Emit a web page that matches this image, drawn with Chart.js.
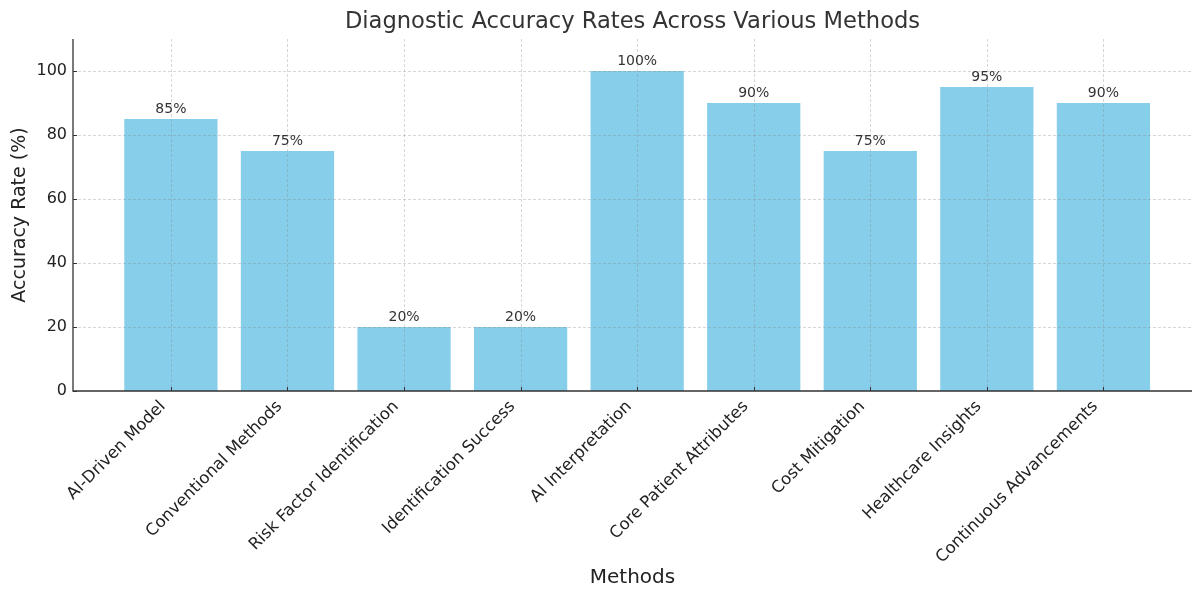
<!DOCTYPE html>
<html>
<head>
<meta charset="utf-8">
<script src="https://cdn.jsdelivr.net/npm/chart.js@4"></script>
<style>
  html, body { margin: 0; padding: 0; background: #fff; }
  #wrap { width: 1192px; height: 590px; }
</style>
</head>
<body>
<div id="wrap"><canvas id="chart" width="1192" height="590"></canvas></div>
<script>
const categories = [
  'AI-Driven Model',
  'Conventional Methods',
  'Risk Factor Identification',
  'Identification Success',
  'AI Interpretation',
  'Core Patient Attributes',
  'Cost Mitigation',
  'Healthcare Insights',
  'Continuous Advancements'
];
const accuracy = [85, 75, 20, 20, 100, 90, 75, 95, 90];
const yTicks = [0, 20, 40, 60, 80, 100];

const FONT = 'DejaVu Sans';

// grid lines, inward ticks, spines and bar labels drawn over the bars (like matplotlib)
const overlay = {
  id: 'overlay',
  afterDatasetsDraw(chart) {
    const { ctx, chartArea: { left, right, top, bottom }, scales: { x, y } } = chart;
    ctx.save();
    ctx.strokeStyle = 'rgba(130,130,130,0.4)';
    ctx.lineWidth = 0.8;
    ctx.setLineDash([3, 2]);
    x.ticks.forEach(t => {
      const px = Math.round(x.getPixelForValue(t.value)) + 0.5;
      ctx.beginPath(); ctx.moveTo(px, top); ctx.lineTo(px, bottom); ctx.stroke();
    });
    y.ticks.forEach(t => {
      if (t.value === 0) return;
      const py = Math.round(y.getPixelForValue(t.value)) + 0.5;
      ctx.beginPath(); ctx.moveTo(left, py); ctx.lineTo(right, py); ctx.stroke();
    });
    ctx.setLineDash([]);

    // spines
    ctx.strokeStyle = '#333';
    ctx.lineWidth = 1.3;
    ctx.beginPath();
    ctx.moveTo(left, top); ctx.lineTo(left, bottom); ctx.lineTo(right, bottom);
    ctx.stroke();

    // inward tick marks
    ctx.lineWidth = 1;
    x.ticks.forEach(t => {
      const px = Math.round(x.getPixelForValue(t.value)) + 0.5;
      ctx.beginPath(); ctx.moveTo(px, bottom); ctx.lineTo(px, bottom - 4); ctx.stroke();
    });
    y.ticks.forEach(t => {
      const py = Math.round(y.getPixelForValue(t.value)) + 0.5;
      ctx.beginPath(); ctx.moveTo(left, py); ctx.lineTo(left + 4, py); ctx.stroke();
    });

    // value labels
    ctx.fillStyle = '#333';
    ctx.font = '14px "' + FONT + '"';
    ctx.textAlign = 'center';
    ctx.textBaseline = 'bottom';
    chart.getDatasetMeta(0).data.forEach((bar, i) => {
      ctx.fillText(accuracy[i] + '%', bar.x, bar.y - 3);
    });
    ctx.restore();
  }
};

new Chart(document.getElementById('chart'), {
  type: 'bar',
  data: {
    datasets: [{
      label: 'Accuracy Rate (%)',
      data: categories.map((c, i) => ({ x: i, y: accuracy[i] })),
      backgroundColor: '#87CEEB',
      borderWidth: 0,
      categoryPercentage: 0.8,
      barPercentage: 1.0
    }]
  },
  options: {
    responsive: false,
    animation: false,
    devicePixelRatio: 1,
    layout: { padding: 0 },
    plugins: {
      legend: { display: false },
      tooltip: { enabled: false },
      title: {
        display: true,
        fullSize: false,
        text: 'Diagnostic Accuracy Rates Across Various Methods',
        color: '#333',
        font: { family: FONT, size: 22.6, weight: 'normal', lineHeight: 1.2 },
        padding: { top: 9, bottom: 2.9 }
      }
    },
    scales: {
      x: {
        type: 'linear',
        offset: false,
        min: -0.84,
        max: 8.76,
        grid: { display: false, drawTicks: false, offset: false },
        border: { display: false },
        afterBuildTicks: s => { s.ticks = categories.map((c, i) => ({ value: i })); },
        afterFit: s => { s.height = 199; },
        ticks: {
          autoSkip: false,
          minRotation: 45,
          maxRotation: 45,
          padding: 6,
          labelOffset: -8,
          color: '#222',
          font: { family: FONT, size: 16.5 },
          callback: v => categories[v]
        },
        title: {
          display: true,
          text: 'Methods',
          color: '#222',
          font: { family: FONT, size: 20 },
          padding: { top: 0, bottom: 0 }
        }
      },
      y: {
        min: 0,
        max: 110,
        grid: { display: false, drawTicks: false },
        border: { display: false },
        afterBuildTicks: s => { s.ticks = yTicks.map(v => ({ value: v })); },
        afterFit: s => { s.width = 73; },
        ticks: {
          padding: 6,
          color: '#222',
          font: { family: FONT, size: 16 }
        },
        title: {
          display: true,
          text: 'Accuracy Rate (%)',
          color: '#222',
          font: { family: FONT, size: 19 },
          padding: { top: 9, bottom: 0 }
        }
      }
    }
  },
  plugins: [overlay]
});
</script>
</body>
</html>
